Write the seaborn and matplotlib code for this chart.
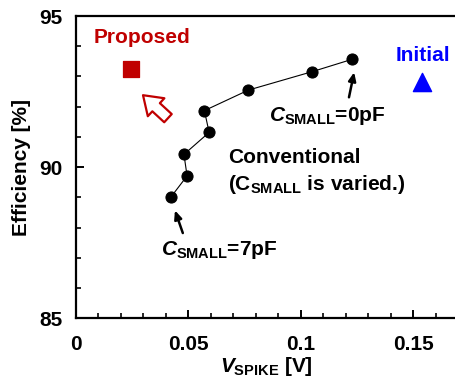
import numpy as np
import pandas as pd
import seaborn as sns
import matplotlib
matplotlib.use("Agg")
import matplotlib.pyplot as plt

# Conventional sweep (C_SMALL varied from 0pF to 7pF)
conv_vspike = [0.1229, 0.1051, 0.0767, 0.0571, 0.0592, 0.0480, 0.0494, 0.0423]
conv_eff = [93.57, 93.16, 92.55, 91.87, 91.15, 90.42, 89.71, 89.02]

proposed_vspike = [0.0245]
proposed_eff = [93.24]

initial_vspike = [0.1538]
initial_eff = [92.82]

x_ticks = [0, 0.05, 0.1, 0.15]
x_ticklabels = ["0", "0.05", "0.1", "0.15"]
y_ticks = [85, 90, 95]

RED = "#c00000"
BLUE = "#0000ff"
FS = 15

sns.set_style("ticks")
plt.rcParams.update({
    "font.family": ["Liberation Sans", "DejaVu Sans"],
    "font.weight": "bold",
    "mathtext.fontset": "custom",
    "mathtext.rm": "Liberation Sans:bold",
    "mathtext.it": "Liberation Sans:bold:italic",
    "mathtext.bf": "Liberation Sans:bold",
    "axes.linewidth": 1.6,
    "axes.edgecolor": "black",
    "axes.labelcolor": "black",
    "text.color": "black",
    "xtick.color": "black",
    "ytick.color": "black",
    "xtick.direction": "in",
    "ytick.direction": "in",
})

conv = pd.DataFrame({"v": conv_vspike, "eff": conv_eff})
prop = pd.DataFrame({"v": proposed_vspike, "eff": proposed_eff})
init = pd.DataFrame({"v": initial_vspike, "eff": initial_eff})

fig, ax = plt.subplots(figsize=(4.56, 3.81), dpi=100)
fig.subplots_adjust(left=0.1667, right=1.0, top=0.958, bottom=0.1646)

sns.lineplot(data=conv, x="v", y="eff", sort=False, ax=ax, color="black",
             linewidth=0.8, marker="o", markersize=8, markeredgecolor="black")
sns.scatterplot(data=prop, x="v", y="eff", ax=ax, marker="s", s=130,
                color=RED, edgecolor=RED)
sns.scatterplot(data=init, x="v", y="eff", ax=ax, marker="^", s=170,
                color=BLUE, edgecolor=BLUE)

ax.set_xlim(0, 0.169)
ax.set_ylim(85, 95)
ax.set_xticks(x_ticks)
ax.set_xticklabels(x_ticklabels)
ax.set_yticks(y_ticks)
ax.set_xticks(np.arange(0, 0.17, 0.01), minor=True)
ax.set_yticks(np.arange(85, 95.1, 1), minor=True)
ax.tick_params(which="major", length=6, width=1.4, labelsize=FS)
ax.tick_params(axis="x", which="major", pad=12)
ax.tick_params(axis="y", which="major", pad=10)
ax.tick_params(which="minor", length=3.5, width=1.2)
for lab in ax.get_xticklabels() + ax.get_yticklabels():
    lab.set_fontweight("bold")
ax.spines["right"].set_visible(False)

ax.set_xlabel(r"$V_{\rm SPIKE}$ [V]", fontsize=FS, fontweight="bold", labelpad=1)
ax.set_ylabel("Efficiency [%]", fontsize=FS, fontweight="bold", labelpad=6)

ax.text(0.0294, 94.30, "Proposed", color=RED, fontsize=FS, fontweight="bold",
        ha="center", va="center")
ax.text(0.1545, 93.70, "Initial", color=BLUE, fontsize=FS, fontweight="bold",
        ha="center", va="center")
ax.text(0.1117, 91.68, r"$C_{\rm SMALL}$=0pF", fontsize=FS, fontweight="bold",
        ha="center", va="center")
ax.text(0.0636, 87.25, r"$C_{\rm SMALL}$=7pF", fontsize=FS, fontweight="bold",
        ha="center", va="center")
ax.text(0.0676, 90.33, "Conventional", fontsize=FS, fontweight="bold",
        ha="left", va="center")
ax.text(0.0676, 89.43, r"(C$_{\rm SMALL}$ is varied.)", fontsize=FS,
        fontweight="bold", ha="left", va="center")

arrow_k = dict(arrowstyle="-|>,head_length=0.5,head_width=0.22", color="black",
               lw=1.8, shrinkA=0, shrinkB=0)
ax.annotate("", xy=(0.1237, 93.14), xytext=(0.1214, 92.31), arrowprops=arrow_k)
ax.annotate("", xy=(0.0440, 88.57), xytext=(0.0475, 87.82), arrowprops=arrow_k)

ax.annotate("", xy=(0.0298, 92.38), xytext=(0.0409, 91.62),
            arrowprops=dict(arrowstyle="simple,head_length=0.8,head_width=1.1,tail_width=0.5",
                            fc="white", ec=RED, lw=1.6, shrinkA=0, shrinkB=0,
                            mutation_scale=16))

fig.savefig("out.png", dpi=100)
